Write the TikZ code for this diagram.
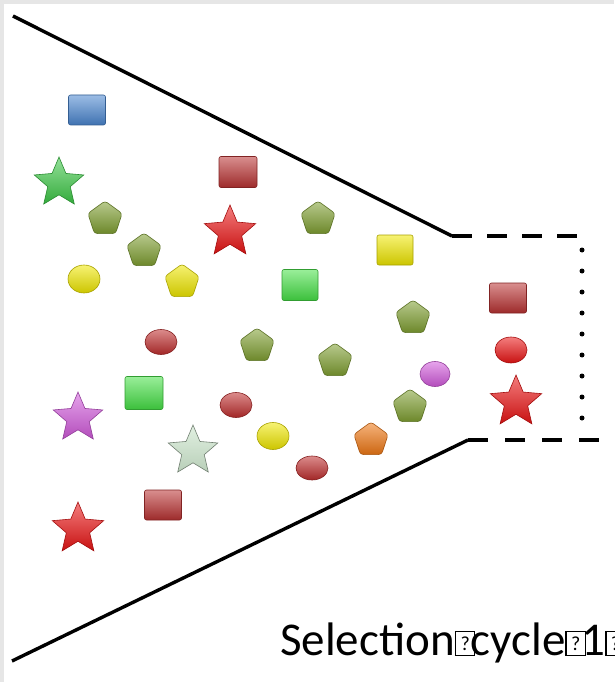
\documentclass[tikz,border=0pt]{standalone}
\usepackage{fontspec}
\newfontfamily\capfont{Carlito}
\usetikzlibrary{shapes.geometric}

\definecolor{gemblue}{HTML}{4A86D0}
\definecolor{gemgreen}{HTML}{3CC846}
\definecolor{gemlime}{HTML}{46E146}
\definecolor{gemolive}{HTML}{80A032}
\definecolor{gemyellow}{HTML}{F0E800}
\definecolor{gemdred}{HTML}{B93232}
\definecolor{gemred}{HTML}{EB1414}
\definecolor{gemoval}{HTML}{BE2D2D}
\definecolor{gemmagenta}{HTML}{D25ADC}
\definecolor{gempale}{HTML}{CDE6CD}
\definecolor{gemorange}{HTML}{F07814}
\definecolor{framegray}{HTML}{E6E6E6}

% missing glyph box
\newcommand{\nglyph}{\rlap{\fboxsep=0pt\fboxrule=1.3pt\fbox{\makebox[18pt]{\rule{0pt}{23pt}\raisebox{5pt}{\fontsize{20}{20}\selectfont ?}}}}\hspace{16pt}}

\begin{document}
\begin{tikzpicture}[x=1pt,y=1pt,yscale=-1,xscale=1,
  sqr/.style={rectangle, minimum width=37pt, minimum height=30pt, rounded corners=2pt, inner sep=0pt},
  pent/.style={regular polygon, regular polygon sides=5, minimum size=36pt, rounded corners=3pt, inner sep=0pt},
  oval/.style={ellipse, minimum width=32pt, minimum height=26pt, inner sep=0pt},
  starshape/.style={star, star points=5, star point ratio=2.2, minimum size=54pt, inner sep=0pt},
  gem/.style={top color=#1!55!white, bottom color=#1!85!black, draw=#1!70!black, line width=0.6pt},
  funnel/.style={line width=3.4pt, black}]
\useasboundingbox (0,0) rectangle (614,682);
\fill[framegray] (0,0) rectangle (614,682);
\fill[white] (4,4) rectangle (614,682);

% Funnel corners
\coordinate (topL) at (13,16);
\coordinate (topK) at (452,236);
\coordinate (topR) at (582,236);
\coordinate (botL) at (12,661);
\coordinate (botK) at (468,440);
\coordinate (botR) at (600,440);
\coordinate (dotT) at (582,250);
\coordinate (dotB) at (582,418);

%Straight Lines
\draw [funnel] (topL) -- (topK) ;
\draw [funnel, dash pattern=on 20pt off 15pt] (topK) -- (topR) ;
\draw [funnel] (botL) -- (botK) ;
\draw [funnel, dash pattern=on 20pt off 17pt] (botK) -- (botR) ;
\draw [line width=5pt, line cap=round, dash pattern=on 0pt off 21pt] (dotT) -- (dotB) ;

%Shapes: left part
\node [sqr, gem=gemblue] (sqblue) at (87,110) {};
\node [starshape, minimum size=52pt, gem=gemgreen] (stgreen) at (59,183) {};
\node [pent, gem=gemolive] (pnA) at (105,219) {};
\node [pent, gem=gemolive] (pnB) at (144,251) {};
\node [oval, minimum height=28pt, gem=gemyellow] (ovyelA) at (84,279) {};
\node [pent, gem=gemyellow] (pnyel) at (182,282) {};
\node [sqr, minimum width=38pt, minimum height=31pt, gem=gemdred] (sqredA) at (238,172) {};
\node [starshape, gem=gemred] (stredA) at (230,232) {};
\node [pent, gem=gemolive] (pnC) at (318,219) {};
\node [sqr, minimum width=36pt, gem=gemyellow] (sqyel) at (395,250) {};
\node [sqr, minimum width=36pt, minimum height=31pt, gem=gemlime] (sqgrA) at (300,285) {};
\node [pent, gem=gemolive] (pnD) at (413,318) {};
\node [oval, minimum height=25pt, gem=gemoval] (ovredA) at (161,342) {};
\node [pent, gem=gemolive] (pnE) at (257,346) {};
\node [pent, gem=gemolive] (pnF) at (335,361) {};
\node [oval, minimum width=30pt, minimum height=25pt, gem=gemmagenta] (ovmag) at (435,374) {};
\node [sqr, minimum width=38pt, minimum height=33pt, gem=gemlime] (sqgrB) at (144,393) {};
\node [oval, minimum height=25pt, gem=gemoval] (ovredB) at (236,405) {};
\node [pent, gem=gemolive] (pnG) at (410,407) {};
\node [starshape, minimum size=52pt, gem=gemmagenta] (stmag) at (78,418) {};
\node [oval, minimum height=27pt, gem=gemyellow] (ovyelB) at (273,436) {};
\node [pent, gem=gemorange] (pnorange) at (371,440) {};
\node [starshape, minimum size=52pt, top color=gempale!60!white, bottom color=gempale!90!black, draw=gempale!55!black, line width=0.6pt] (stpale) at (193,451) {};
\node [oval, minimum height=24pt, gem=gemoval] (ovredC) at (312,468) {};
\node [sqr, gem=gemdred] (sqredB) at (163,505) {};
\node [starshape, gem=gemred] (stredB) at (78,529) {};

%Shapes: selected
\node [sqr, gem=gemdred] (selsq) at (508,298) {};
\node [oval, gem=gemred] (seloval) at (511,350) {};
\node [starshape, gem=gemred] (selstar) at (516,402) {};

% Text Node
\node [anchor=base west, inner sep=0pt, font=\capfont\fontsize{47}{52}\selectfont] (caption) at (280,655) {Selection\nglyph cycle\nglyph 1\nglyph};

\end{tikzpicture}
\end{document}
